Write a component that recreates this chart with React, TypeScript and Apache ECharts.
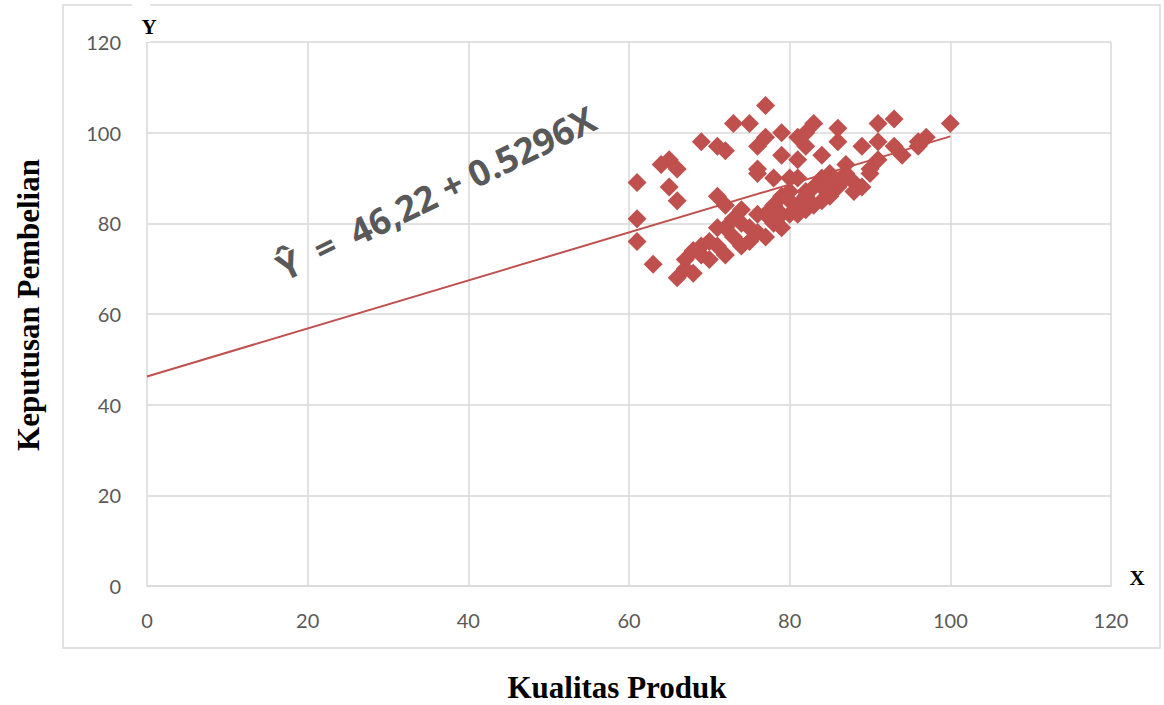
import React, { useEffect, useRef } from "react";
import * as echarts from "echarts";

const xTicks = [0, 20, 40, 60, 80, 100, 120];
const yTicks = [0, 20, 40, 60, 80, 100, 120];

const intercept = 46.22;
const slope = 0.5296;
const trendX = [0, 100];

const qualityX = [
  77, 73, 75, 83, 82, 81, 79, 77, 76, 86, 72, 79, 82, 86, 84, 76, 81, 69, 71, 91,
  93, 100, 89, 91, 93, 94, 96, 97, 96, 91, 90, 87, 87, 64, 65, 66, 61, 65, 66, 61,
  61, 63, 66, 71, 72, 76, 72, 70, 67, 69, 70, 72, 68, 67, 74, 75, 77, 71, 73, 74,
  75, 77, 78, 78, 79, 79, 80, 83, 82, 81, 80, 85, 85, 88, 86, 87, 84, 78, 80, 81,
  82, 84, 86, 88, 89, 83, 80, 79, 76, 76, 74, 73, 71, 68, 69, 81, 82, 84, 85, 90,
];
const decisionY = [
  106, 102, 102, 102, 100, 99, 100, 99, 97, 101, 96, 95, 97, 98, 95, 92, 94, 98, 97, 102,
  103, 102, 97, 98, 97, 95, 98, 99, 97, 94, 91, 93, 91, 93, 94, 92, 89, 88, 85, 81,
  76, 71, 68, 86, 84, 91, 73, 72, 70, 75, 76, 79, 69, 72, 75, 76, 77, 79, 81, 83,
  79, 82, 84, 80, 82, 79, 82, 84, 87, 90, 90, 91, 86, 87, 88, 90, 90, 90, 85, 84,
  86, 85, 89, 89, 88, 88, 87, 86, 82, 78, 80, 77, 75, 74, 73, 82, 83, 88, 89, 92,
];

const RED = "#c0504d";
const GRAY = "#595959";
const GRID = "#d9d9d9";

export default function App() {
  const ref = useRef<HTMLDivElement>(null);
  useEffect(() => {
    if (!ref.current) return;
    const chart = echarts.init(ref.current, null, { renderer: "svg" });
    const points = qualityX.map((x, i) => [x, decisionY[i]]);
    const trend = trendX.map((x) => [x, intercept + slope * x]);
    chart.setOption({
      animation: false,
      backgroundColor: "#ffffff",
      grid: { left: 147, right: 53, top: 42, bottom: 119 },
      xAxis: {
        type: "value",
        min: xTicks[0],
        max: xTicks[xTicks.length - 1],
        interval: 20,
        axisLine: { show: true, lineStyle: { color: GRID, width: 1.5 } },
        axisTick: { show: false },
        splitLine: { show: true, lineStyle: { color: GRID, width: 1.5 } },
        axisLabel: { color: GRAY, fontSize: 20, fontFamily: "Lato", margin: 24 },
      },
      yAxis: {
        type: "value",
        min: yTicks[0],
        max: yTicks[yTicks.length - 1],
        interval: 20,
        axisLine: { show: false },
        axisTick: { show: false },
        splitLine: { show: true, lineStyle: { color: GRID, width: 1.5 } },
        axisLabel: { color: GRAY, fontSize: 20, fontFamily: "Lato", margin: 26 },
      },
      graphic: [
        {
          type: "rect",
          shape: { x: 63, y: 5, width: 1097, height: 643 },
          style: { fill: "none", stroke: GRID, lineWidth: 1.5 },
          z: -10,
          silent: true,
        },
        {
          type: "rect",
          shape: { x: 132, y: 2, width: 18, height: 40 },
          style: { fill: "#ffffff" },
          z: 5,
        },
        {
          type: "text",
          x: 149,
          y: 27,
          style: {
            text: "Y",
            font: "bold 21px 'Liberation Serif'",
            fill: "#000",
            align: "center",
            verticalAlign: "middle",
          },
          z: 10,
        },
        {
          type: "text",
          x: 1137,
          y: 578,
          style: {
            text: "X",
            font: "bold 21px 'Liberation Serif'",
            fill: "#000",
            align: "center",
            verticalAlign: "middle",
          },
          z: 10,
        },
        {
          type: "text",
          x: 617,
          y: 687,
          style: {
            text: "Kualitas Produk",
            font: "bold 31px 'Liberation Serif'",
            fill: "#000",
            align: "center",
            verticalAlign: "middle",
          },
        },
        {
          type: "text",
          x: 28,
          y: 305,
          rotation: Math.PI / 2,
          style: {
            text: "Keputusan Pembelian",
            font: "bold 31px 'Liberation Serif'",
            fill: "#000",
            align: "center",
            verticalAlign: "middle",
          },
        },
        {
          type: "text",
          x: 436,
          y: 193,
          rotation: (26 * Math.PI) / 180,
          style: {
            text: "Ŷ  =  46,22 + 0.5296X",
            font: "bold 36px 'Open Sans'",
            fill: GRAY,
            align: "center",
            verticalAlign: "middle",
          },
          z: 10,
        },
      ],
      series: [
        {
          type: "scatter",
          data: points,
          symbol: "diamond",
          symbolSize: 19,
          itemStyle: { color: RED, opacity: 1 },
          z: 2,
        },
        {
          type: "line",
          data: trend,
          showSymbol: false,
          symbol: "none",
          lineStyle: { color: RED, width: 2 },
          z: 3,
        },
      ],
    });
    return () => chart.dispose();
  }, []);
  return <div ref={ref} style={{ width: 1164, height: 705, position: "absolute", left: 0, top: 0 }} />;
}
